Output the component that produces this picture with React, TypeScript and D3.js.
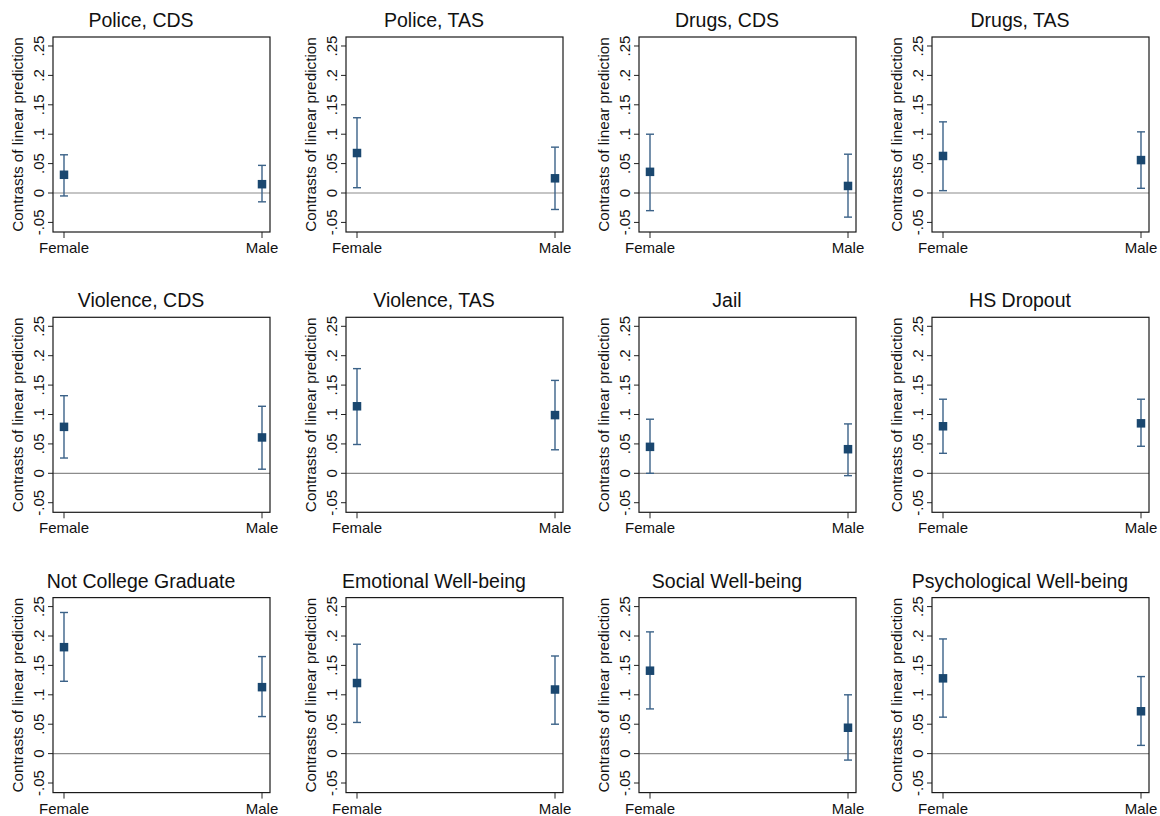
import React from "react";
import * as d3 from "d3";

// panel titles, in reading order (4 per row)
const panelTitles = [
  "Police, CDS", "Police, TAS", "Drugs, CDS", "Drugs, TAS",
  "Violence, CDS", "Violence, TAS", "Jail", "HS Dropout",
  "Not College Graduate", "Emotional Well-being", "Social Well-being", "Psychological Well-being",
];
const sexes = ["Female", "Male"];

// contrasts + 95% CI
const femaleEst = [0.031, 0.068, 0.036, 0.063, 0.079, 0.114, 0.045, 0.080, 0.181, 0.120, 0.141, 0.128];
const femaleLo = [-0.005, 0.009, -0.030, 0.004, 0.026, 0.049, 0.000, 0.034, 0.123, 0.053, 0.076, 0.062];
const femaleHi = [0.065, 0.128, 0.100, 0.121, 0.132, 0.178, 0.092, 0.126, 0.240, 0.186, 0.207, 0.195];
const maleEst = [0.015, 0.025, 0.012, 0.056, 0.061, 0.099, 0.041, 0.085, 0.113, 0.109, 0.044, 0.072];
const maleLo = [-0.015, -0.028, -0.041, 0.008, 0.007, 0.040, -0.004, 0.046, 0.063, 0.050, -0.011, 0.014];
const maleHi = [0.047, 0.078, 0.066, 0.104, 0.114, 0.158, 0.084, 0.126, 0.165, 0.166, 0.100, 0.131];

const yTicks = [-0.05, 0, 0.05, 0.1, 0.15, 0.2, 0.25];
const yTitle = "Contrasts of linear prediction";

const W = 1160;
const H = 816;
const colPitch = 293;
const rowPitch = 280.3;
const box = { left: 53, top: 37, width: 217, height: 195 };
const font = "'Liberation Sans', Arial, Helvetica, sans-serif";
const navy = "#1a476f";
const ciColor = "#3b6288";

const fmtTick = (v: number) => {
  if (v === 0) return "0";
  const s = String(+v.toFixed(2));
  return s.replace(/^(-?)0\./, "$1.");
};

function Panel({ i }: { i: number }) {
  const col = i % 4;
  const row = Math.floor(i / 4);
  const ox = col * colPitch;
  const oy = row * rowPitch;

  const y = d3.scaleLinear().domain([-0.0663, 0.2653]).range([box.top + box.height, box.top]);
  const x = d3.scalePoint<string>().domain(sexes).range([box.left + 11, box.left + box.width - 8]);

  const pts = [
    { sex: "Female", est: femaleEst[i], lo: femaleLo[i], hi: femaleHi[i] },
    { sex: "Male", est: maleEst[i], lo: maleLo[i], hi: maleHi[i] },
  ];
  const bottom = box.top + box.height;
  const cap = 4;
  const ms = 8.5;

  return (
    <g transform={`translate(${ox},${oy})`}>
      <text x={141} y={27} textAnchor="middle" fontSize={19.5} fill="#111">
        {panelTitles[i]}
      </text>
      {/* zero reference line */}
      <line x1={box.left} x2={box.left + box.width} y1={y(0)} y2={y(0)} stroke="#8c8c8c" strokeWidth={1.2} />
      {/* y axis ticks */}
      {yTicks.map((t) => (
        <g key={t}>
          <line x1={box.left - 5} x2={box.left} y1={y(t)} y2={y(t)} stroke="#222" strokeWidth={1} />
          <text
            transform={`translate(44,${y(t)}) rotate(-90)`}
            textAnchor="middle"
            fontSize={15}
            fill="#111"
          >
            {fmtTick(t)}
          </text>
        </g>
      ))}
      <text
        transform={`translate(23,${box.top + box.height / 2}) rotate(-90)`}
        textAnchor="middle"
        fontSize={15.3}
        fill="#111"
      >
        {yTitle}
      </text>
      {/* x axis ticks */}
      {sexes.map((s) => (
        <g key={s}>
          <line x1={x(s)} x2={x(s)} y1={bottom} y2={bottom + 6} stroke="#222" strokeWidth={1} />
          <text x={x(s)} y={bottom + 21} textAnchor="middle" fontSize={15} fill="#111">
            {s}
          </text>
        </g>
      ))}
      {/* CI caps */}
      {pts.map((p) => {
        const cx = x(p.sex) as number;
        return (
          <g key={p.sex}>
            <line x1={cx} x2={cx} y1={y(p.lo)} y2={y(p.hi)} stroke={ciColor} strokeWidth={1.4} />
            <line x1={cx - cap} x2={cx + cap} y1={y(p.lo)} y2={y(p.lo)} stroke={ciColor} strokeWidth={1.4} />
            <line x1={cx - cap} x2={cx + cap} y1={y(p.hi)} y2={y(p.hi)} stroke={ciColor} strokeWidth={1.4} />
            <rect x={cx - ms / 2} y={y(p.est) - ms / 2} width={ms} height={ms} fill={navy} />
          </g>
        );
      })}
      <rect x={box.left} y={box.top} width={box.width} height={box.height} fill="none" stroke="#1a1a1a" strokeWidth={1.2} />
    </g>
  );
}

export default function App() {
  return (
    <svg
      width={W}
      height={H}
      style={{ position: "absolute", left: 0, top: 0, background: "#fff", fontFamily: font }}
    >
      <rect width={W} height={H} fill="#fff" />
      {panelTitles.map((_, i) => (
        <Panel key={i} i={i} />
      ))}
    </svg>
  );
}
